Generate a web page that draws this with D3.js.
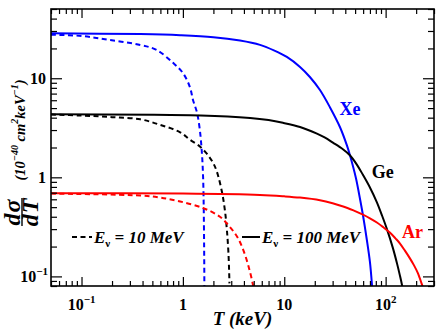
<!DOCTYPE html>
<html>
<head>
<meta charset="utf-8">
<script src="https://cdn.jsdelivr.net/npm/d3@7"></script>
<style>
  body { margin: 0; background: #fff; }
  svg text { font-family: "Liberation Serif", "DejaVu Serif", serif; font-weight: bold; }
</style>
</head>
<body>
<svg id="chart" width="447" height="329"></svg>
<script>
// recoil energy T (keV) and d(sigma)/dT (1e-40 cm^2/keV)
// E_nu = 10 MeV (dashed)
var xe10T = [0.05, 0.1, 0.19, 0.38, 0.55, 0.8, 1.0, 1.17, 1.26, 1.38, 1.47, 1.54, 1.58, 1.60, 1.62, 1.63];
var xe10V = [27.5, 26.7, 24.3, 21.7, 19.3, 14.3, 11.3, 8.2, 6.0, 4.47, 3.0, 1.76, 1.05, 0.62, 0.2, 0.07];
var ge10T = [0.05, 0.1, 0.2, 0.38, 0.59, 0.94, 1.17, 1.47, 1.73, 2.0, 2.17, 2.43, 2.6, 2.72, 2.82, 2.88];
var ge10V = [4.3, 4.2, 4.05, 3.85, 3.4, 2.85, 2.4, 2.05, 1.72, 1.38, 1.13, 0.71, 0.46, 0.29, 0.165, 0.085];
var ar10T = [0.05, 0.38, 0.59, 0.94, 1.58, 2.32, 2.91, 3.49, 4.1, 4.59, 4.91, 5.0];
var ar10V = [0.685, 0.655, 0.625, 0.57, 0.49, 0.40, 0.315, 0.244, 0.165, 0.111, 0.082, 0.07];
// E_nu = 100 MeV (solid)
var xe100T = [0.05, 0.38, 0.94, 2.0, 3.66, 5.76, 8, 10.6, 14.3, 17.9, 22.5, 28.2, 35.4, 41.5, 44.4, 50.9, 55, 59.7, 65.3, 70, 73.3, 76];
var xe100V = [28.4, 27.9, 27.2, 26.0, 24.0, 21.7, 19.0, 16.4, 13.0, 10.3, 7.6, 5.1, 3.22, 2.1, 1.68, 0.985, 0.66, 0.417, 0.233, 0.14, 0.082, 0.045];
var ge100T = [0.05, 1.5, 4.6, 7, 9.7, 14.3, 21, 25, 30.2, 37.9, 44.4, 52, 59.7, 70, 82, 92, 103, 118, 130, 138, 145, 152];
var ge100V = [4.33, 4.21, 3.97, 3.78, 3.55, 3.22, 2.76, 2.53, 2.24, 1.92, 1.67, 1.345, 1.06, 0.79, 0.56, 0.413, 0.30, 0.193, 0.133, 0.103, 0.082, 0.063];
var ar100T = [0.05, 1, 5.76, 10, 14.3, 22.5, 30, 35.4, 47.5, 59.7, 70, 82, 95, 110, 125, 138, 155, 173, 190, 208, 228, 240];
var ar100V = [0.69, 0.685, 0.664, 0.643, 0.624, 0.587, 0.548, 0.52, 0.467, 0.42, 0.386, 0.35, 0.313, 0.277, 0.242, 0.216, 0.182, 0.153, 0.13, 0.108, 0.083, 0.071];

var xMajor = [0.1, 1, 10, 100];
var xTickBase = ["10", "1", "10", "10"];
var xTickExp = ["\u22121", "", "", "2"];
var yMajor = [0.1, 1, 10];
var yTickBase = ["10", "1", "10"];
var yTickExp = ["\u22121", "", ""];

var curves = [
    {T: xe10T, V: xe10V, color: "#0000ff", dash: "5,3.5"},
    {T: ge10T, V: ge10V, color: "#000000", dash: "5,3.5"},
    {T: ar10T, V: ar10V, color: "#ff0000", dash: "5,3.5"},
    {T: xe100T, V: xe100V, color: "#0000ff", dash: null},
    {T: ge100T, V: ge100V, color: "#000000", dash: null},
    {T: ar100T, V: ar100V, color: "#ff0000", dash: null}
];

var margin = {left: 51, right: 13, top: 9, bottom: 43};
var width = 447 - margin.left - margin.right;
var height = 329 - margin.top - margin.bottom;

var svg = d3.select("#chart");
var g = svg.append("g").attr("transform", "translate(" + margin.left + "," + margin.top + ")");

var x = d3.scaleLog().domain([0.05, 300]).range([0, width]);
var y = d3.scaleLog().domain([0.08, 50]).range([height, 0]);

g.append("clipPath").attr("id", "clip")
    .append("rect").attr("width", width).attr("height", height);

// curves
var line = d3.line()
    .x(function(d) { return x(d[0]); })
    .y(function(d) { return y(d[1]); })
    .curve(d3.curveCatmullRom.alpha(0.5));

g.append("g").attr("clip-path", "url(#clip)")
    .selectAll("path")
    .data(curves)
    .join("path")
    .attr("d", function(c) { return line(c.T.map(function(t, i) { return [t, c.V[i]]; })); })
    .attr("fill", "none")
    .attr("stroke", function(c) { return c.color; })
    .attr("stroke-width", 2)
    .attr("stroke-dasharray", function(c) { return c.dash; });

// ticks on all four sides, major longer than minor
var xMinor = x.ticks().filter(function(t) { return xMajor.indexOf(t) < 0; });
var yMinor = y.ticks().filter(function(t) { return yMajor.indexOf(t) < 0; });

function drawAxis(axis, transform) {
    g.append("g").attr("class", "axis").attr("transform", transform).call(axis)
        .call(function(s) { s.select(".domain").remove(); s.selectAll("text").remove(); });
}
drawAxis(d3.axisBottom(x).tickValues(xMinor).tickSizeInner(-5), "translate(0," + height + ")");
drawAxis(d3.axisBottom(x).tickValues(xMajor).tickSizeInner(-9), "translate(0," + height + ")");
drawAxis(d3.axisTop(x).tickValues(xMinor).tickSizeInner(-5), "translate(0,0)");
drawAxis(d3.axisTop(x).tickValues(xMajor).tickSizeInner(-9), "translate(0,0)");
drawAxis(d3.axisLeft(y).tickValues(yMinor).tickSizeInner(-6), "translate(0,0)");
drawAxis(d3.axisLeft(y).tickValues(yMajor).tickSizeInner(-11), "translate(0,0)");
drawAxis(d3.axisRight(y).tickValues(yMinor).tickSizeInner(-6), "translate(" + width + ",0)");
drawAxis(d3.axisRight(y).tickValues(yMajor).tickSizeInner(-11), "translate(" + width + ",0)");
g.selectAll(".axis line").attr("stroke", "#000").attr("stroke-width", 1.2);

g.append("rect")
    .attr("width", width).attr("height", height)
    .attr("fill", "none").attr("stroke", "#000").attr("stroke-width", 1.6);

// tick labels
var xl = g.selectAll(".xlabel").data(xMajor).join("text")
    .attr("class", "xlabel")
    .attr("x", function(d) { return x(d); })
    .attr("y", height + 24)
    .attr("text-anchor", "middle")
    .style("font-size", "16px");
xl.append("tspan").text(function(d, i) { return xTickBase[i]; });
xl.append("tspan").attr("dy", -7).style("font-size", "11px").text(function(d, i) { return xTickExp[i]; });

var yl = g.selectAll(".ylabel").data(yMajor).join("text")
    .attr("class", "ylabel")
    .attr("x", function(d, i) { return yTickExp[i] ? -3 : -5; })
    .attr("y", function(d) { return y(d) + 6; })
    .attr("text-anchor", "end")
    .style("font-size", "16px");
yl.append("tspan").text(function(d, i) { return yTickBase[i]; });
yl.append("tspan").attr("dy", -7).style("font-size", "11px").text(function(d, i) { return yTickExp[i]; });

// element labels
var labels = [
    {text: "Xe", T: 35, V: 4.3, color: "#0000ff"},
    {text: "Ge", T: 73, V: 0.985, color: "#000000"},
    {text: "Ar", T: 145, V: 0.244, color: "#ff0000"}
];
g.selectAll(".elabel").data(labels).join("text")
    .attr("class", "elabel")
    .attr("x", function(d) { return x(d.T); })
    .attr("y", function(d) { return y(d.V); })
    .attr("fill", function(d) { return d.color; })
    .style("font-size", "18px")
    .text(function(d) { return d.text; });

// legend
var legend = [
    {label: "10 MeV", dash: "5,3.5", x0: 21, x1: 41, tx: 43},
    {label: "100 MeV", dash: null, x0: 191, x1: 209, tx: 211}
];
var lg = g.selectAll(".legend").data(legend).join("g").attr("class", "legend");
lg.append("line")
    .attr("x1", function(d) { return d.x0; })
    .attr("x2", function(d) { return d.x1; })
    .attr("y1", 228).attr("y2", 228)
    .attr("stroke", "#000").attr("stroke-width", 2)
    .attr("stroke-dasharray", function(d) { return d.dash; });
var lt = lg.append("text")
    .attr("x", function(d) { return d.tx; })
    .attr("y", 234)
    .style("font-size", "17px")
    .style("font-style", "italic");
lt.append("tspan").text("E");
lt.append("tspan").attr("dy", 4).style("font-size", "11px").style("font-style", "normal").text("\u03bd");
lt.append("tspan").attr("dy", -4).text(function(d) { return " = " + d.label; });

// axis titles
g.append("text")
    .attr("x", width / 2)
    .attr("y", height + 39)
    .attr("text-anchor", "middle")
    .style("font-size", "19px")
    .style("font-style", "italic")
    .text("T (keV)");

var yt = svg.append("g").attr("transform", "translate(25,130) rotate(-90)");
var ytt = yt.append("text")
    .attr("text-anchor", "middle")
    .style("font-size", "14.5px")
    .style("font-style", "italic");
ytt.append("tspan").text("(10");
ytt.append("tspan").attr("dy", -7).style("font-size", "10px").text("\u221240");
ytt.append("tspan").attr("dy", 7).text(" cm");
ytt.append("tspan").attr("dy", -7).style("font-size", "10px").text("2");
ytt.append("tspan").attr("dy", 7).text("keV");
ytt.append("tspan").attr("dy", -7).style("font-size", "10px").text("\u22121");
ytt.append("tspan").attr("dy", 7).text(")");

var fr = svg.append("g").attr("transform", "translate(22,212) rotate(-90)");
fr.append("text").attr("text-anchor", "middle").attr("y", -2)
    .style("font-size", "24px").style("font-style", "italic").style("letter-spacing", "1px").text("d\u03c3");
fr.append("line").attr("x1", -14).attr("x2", 14).attr("y1", 0).attr("y2", 0)
    .attr("stroke", "#000").attr("stroke-width", 1.4);
fr.append("text").attr("text-anchor", "middle").attr("y", 16)
    .style("font-size", "24px").style("font-style", "italic").style("letter-spacing", "1px").text("dT");
</script>
</body>
</html>
